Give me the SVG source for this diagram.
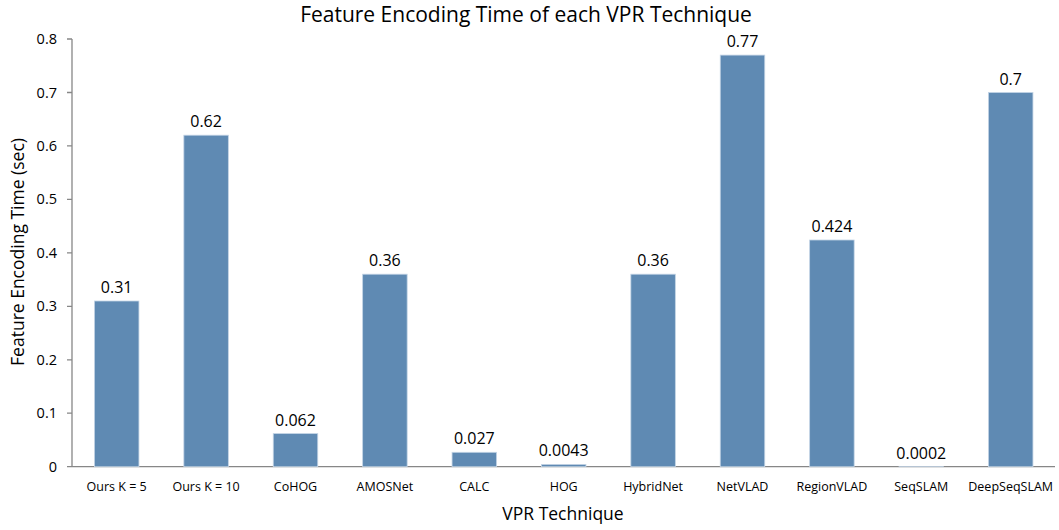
<svg xmlns="http://www.w3.org/2000/svg" width="1059" height="530" viewBox="0 0 1059 530">
  <style>
    text { font-family: "Open Sans", "Liberation Sans", sans-serif; fill: #000; }
    .title { font-size: 21px; text-anchor: middle; }
    .axis-title { font-size: 17.5px; text-anchor: middle; }
    .tick-label { font-size: 14.5px; text-anchor: end; }
    .cat-label { font-size: 12.5px; text-anchor: middle; }
    .value { font-size: 16px; text-anchor: middle; }
    .bar { fill: #5f8ab3; stroke: #c3d4e5; stroke-width: 0.8; }
    .axis { stroke: #878787; stroke-width: 1.3; fill: none; }
  </style>

  <rect width="1059" height="530" fill="#fff"/>

  <!-- chart title -->
  <text class="title" x="526" y="22">Feature Encoding Time of each VPR Technique</text>

  <!-- axes and ticks -->
  <g id="axes">
    <path class="axis" d="M72 39V466.7M67 466.7H1055"/>
    <path class="axis" d="M67 39H72M67 92.5H72M67 145.9H72M67 199.4H72M67 252.9H72M67 306.3H72M67 359.8H72M67 413.2H72"/>
  </g>

  <!-- y tick labels -->
  <g id="y-ticks">
    <text class="tick-label" x="57" y="44">0.8</text>
    <text class="tick-label" x="57" y="97.5">0.7</text>
    <text class="tick-label" x="57" y="150.9">0.6</text>
    <text class="tick-label" x="57" y="204.4">0.5</text>
    <text class="tick-label" x="57" y="257.9">0.4</text>
    <text class="tick-label" x="57" y="311.3">0.3</text>
    <text class="tick-label" x="57" y="364.8">0.2</text>
    <text class="tick-label" x="57" y="418.2">0.1</text>
    <text class="tick-label" x="57" y="471.7">0</text>
  </g>

  <!-- axis titles -->
  <text class="axis-title" transform="translate(24 252) rotate(-90)">Feature Encoding Time (sec)</text>
  <text class="axis-title" x="563" y="520">VPR Technique</text>

  <!-- bars: one group per technique -->
  <g id="bar-ours-k5">
    <rect class="bar" x="94.45" y="301" width="44.5" height="165.7"/>
    <text class="value" x="116.7" y="293">0.31</text>
    <text class="cat-label" x="116.7" y="491">Ours K = 5</text>
  </g>
  <g id="bar-ours-k10">
    <rect class="bar" x="183.85" y="135.2" width="44.5" height="331.5"/>
    <text class="value" x="206.1" y="127.2">0.62</text>
    <text class="cat-label" x="206.1" y="491">Ours K = 10</text>
  </g>
  <g id="bar-cohog">
    <rect class="bar" x="273.25" y="433.6" width="44.5" height="33.1"/>
    <text class="value" x="295.5" y="425.6">0.062</text>
    <text class="cat-label" x="295.5" y="491">CoHOG</text>
  </g>
  <g id="bar-amosnet">
    <rect class="bar" x="362.65" y="274.2" width="44.5" height="192.5"/>
    <text class="value" x="384.9" y="266.2">0.36</text>
    <text class="cat-label" x="384.9" y="491">AMOSNet</text>
  </g>
  <g id="bar-calc">
    <rect class="bar" x="452.05" y="452.3" width="44.5" height="14.4"/>
    <text class="value" x="474.3" y="444.3">0.027</text>
    <text class="cat-label" x="474.3" y="491">CALC</text>
  </g>
  <g id="bar-hog">
    <rect class="bar" x="541.45" y="464.4" width="44.5" height="2.3"/>
    <text class="value" x="563.7" y="456.4">0.0043</text>
    <text class="cat-label" x="563.7" y="491">HOG</text>
  </g>
  <g id="bar-hybridnet">
    <rect class="bar" x="630.85" y="274.2" width="44.5" height="192.5"/>
    <text class="value" x="653.1" y="266.2">0.36</text>
    <text class="cat-label" x="653.1" y="491">HybridNet</text>
  </g>
  <g id="bar-netvlad">
    <rect class="bar" x="720.25" y="55.1" width="44.5" height="411.6"/>
    <text class="value" x="742.5" y="47.1">0.77</text>
    <text class="cat-label" x="742.5" y="491">NetVLAD</text>
  </g>
  <g id="bar-regionvlad">
    <rect class="bar" x="809.65" y="240" width="44.5" height="226.7"/>
    <text class="value" x="831.9" y="232">0.424</text>
    <text class="cat-label" x="831.9" y="491">RegionVLAD</text>
  </g>
  <g id="bar-seqslam">
    <rect class="bar" x="899.05" y="466.6" width="44.5" height="0.1"/>
    <text class="value" x="921.3" y="458.6">0.0002</text>
    <text class="cat-label" x="921.3" y="491">SeqSLAM</text>
  </g>
  <g id="bar-deepseqslam">
    <rect class="bar" x="988.45" y="92.5" width="44.5" height="374.2"/>
    <text class="value" x="1010.7" y="84.5">0.7</text>
    <text class="cat-label" x="1010.7" y="491">DeepSeqSLAM</text>
  </g>
</svg>
